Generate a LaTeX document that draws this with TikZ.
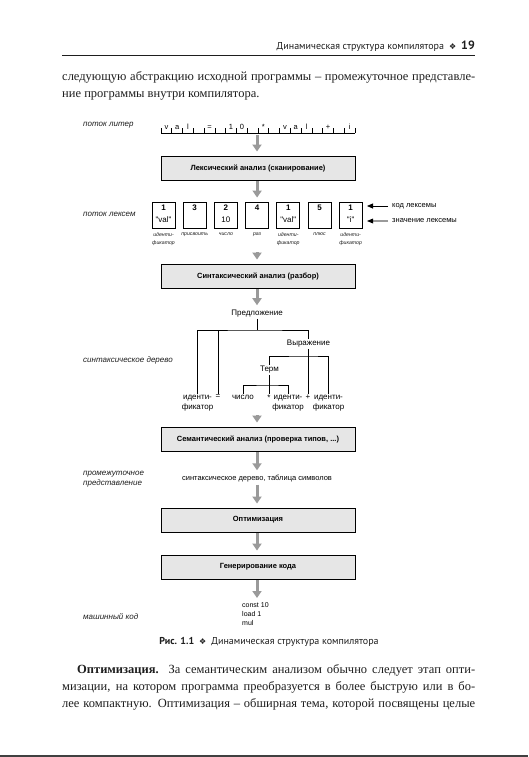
\documentclass[tikz,border=0pt]{standalone}
\usepackage{fontspec}
\setmainfont{Liberation Serif}
\newfontfamily\dsans{Liberation Sans}
\newfontfamily\hsans{PT Sans}
\newfontfamily\symf{DejaVu Sans}
\usetikzlibrary{arrows.meta}

\definecolor{boxgray}{HTML}{E6E6E6}
\definecolor{arrgray}{HTML}{9A9A9A}
\definecolor{txt}{HTML}{1E1E1E}

\tikzset{
  stagebox/.style={draw=black, line width=0.9pt, fill=boxgray, minimum width=194pt,
    minimum height=24pt, inner sep=0pt, font=\dsans\bfseries\fontsize{7.5}{8.5}\selectfont},
  garrow/.style={draw=arrgray, line width=3pt, -{Triangle[width=9pt,length=7pt]},
    arrgray, shorten <=1pt, shorten >=4pt},
  tokbox/.style={draw=black, line width=0.9pt, fill=white, minimum width=23pt,
    minimum height=26pt, inner sep=0pt},
  tokcode/.style={font=\dsans\bfseries\fontsize{8}{9}\selectfont, inner sep=0pt},
  tokval/.style={font=\dsans\fontsize{8}{9}\selectfont, inner sep=0pt},
  sidelabel/.style={anchor=west, font=\dsans\itshape\fontsize{8}{10}\selectfont,
    align=left, inner sep=0pt, text=txt},
  toklabel/.style={anchor=north, font=\dsans\itshape\fontsize{5.2}{7.5}\selectfont,
    align=center, inner sep=0pt, text=txt},
  treetxt/.style={font=\dsans\fontsize{8}{10}\selectfont, inner sep=1pt, align=center},
  leaf/.style={treetxt, anchor=north, inner sep=0.5pt},
  treeline/.style={line width=0.8pt},
  keylabel/.style={anchor=west, font=\dsans\fontsize{7.5}{9}\selectfont, inner sep=0pt},
  bodyline/.style={anchor=base west, inner sep=0pt, text=txt,
    font=\fontsize{12.5}{17}\selectfont},
  rulerchar/.style={font=\dsans\fontsize{7.5}{8}\selectfont, inner sep=0pt, anchor=base},
}

\begin{document}
\begin{tikzpicture}[x=1pt,y=-1pt]
\useasboundingbox (0,0) rectangle (528,757);
\fill[white] (0,0) rectangle (528,757);

% header
\node[anchor=base east, inner sep=0pt, text=txt] (hdr) at (475,50)
  {\hsans\fontsize{10}{12}\selectfont Динамическая структура компилятора\hspace{5pt}{\symf\fontsize{8}{8}\selectfont ❖}\hspace{5pt}{\bfseries\fontsize{12}{12}\selectfont 19}};
\draw[line width=0.9pt, txt] (62,55) -- (475,55);

% top body text
\node[bodyline] (b1) at (62,81) {\hbox to 413pt{следующую абстракцию исходной программы – промежуточное представле-}};
\node[bodyline] (b2) at (62,98) {ние программы внутри компилятора.};

% --- character stream ---
\node[sidelabel] (lit) at (83,125) {поток литер};
\coordinate (rl) at (161,133);
\coordinate (rr) at (355,133);
\draw[line width=0.7pt] (rl) -- (rr);
\foreach \i in {0,...,18} {
  \draw[line width=0.6pt] ({161+\i*10.778},133) -- ({161+\i*10.778},128);
}
\foreach \c/\i in {v/0,a/1,l/2,=/4,1/6,0/7,*/9,v/11,a/12,l/13,+/15,i/17} {
  \node[rulerchar] at ({161+(\i+0.5)*10.778},129) {\c};
}
\coordinate (rmid) at (257,134);

% stage 1
\node[stagebox] (lex) at (258,168) {Лексический анализ (сканирование)};
\draw[garrow] (rmid) -- (lex.north -| rmid);

% --- token stream ---
\node[sidelabel] (tokl) at (83,214) {поток лексем};
\foreach \n/\x in {1/163.5,2/194.7,3/225.9,4/257.1,5/288.3,6/319.5,7/350.7} {
  \node[tokbox] (t\n) at (\x,215) {};
}
\node[tokcode] at (163.5,208) {1};
\node[tokval]  at (163.5,220) {"val"};
\node[tokcode] at (194.7,208) {3};
\node[tokcode] at (225.9,208) {2};
\node[tokval]  at (225.9,220) {10};
\node[tokcode] at (257.1,208) {4};
\node[tokcode] at (288.3,208) {1};
\node[tokval]  at (288.3,220) {"val"};
\node[tokcode] at (319.5,208) {5};
\node[tokcode] at (350.7,208) {1};
\node[tokval]  at (350.7,220) {"i"};

\node[toklabel] (l1) at (163.5,233) {иденти-\\фикатор};
\node[toklabel] (l2) at (194.7,233) {присвоить};
\node[toklabel] (l3) at (225.9,233) {число};
\node[toklabel] (l4) at (257.1,233) {раз};
\node[toklabel] (l5) at (288.3,233) {иденти-\\фикатор};
\node[toklabel] (l6) at (319.5,233) {плюс};
\node[toklabel] (l7) at (350.7,233) {иденти-\\фикатор};

\draw[garrow] (lex.south -| t4) -- (t4.north);

\node[keylabel] (kc) at (392,206) {код лексемы};
\node[keylabel] (kv) at (392,221) {значение лексемы};
\draw[line width=0.8pt, -{Triangle[width=5pt,length=6pt]}] ([xshift=-4pt]kc.west) -- ++(-21,0) coordinate (kce);
\draw[line width=1.6pt, arrgray, shorten >=3pt] ([xshift=-4pt]kv.west) -- ++(-21,0) coordinate (kve);
\fill (kve) -- ++(6,-2.5) -- ++(0,5) -- cycle;

% stage 2
\node[stagebox] (syn) at (258,276) {Синтаксический анализ (разбор)};
\coordinate (l4b) at (257,251);
\draw[garrow] (l4b) -- (syn.north -| l4b);

% --- syntax tree ---
\node[sidelabel] (treel) at (83,360) {синтаксическое дерево};
\node[treetxt] (sent) at (257,314) {Предложение};
\draw[garrow] (syn.south -| sent) -- (sent.north);

\node[treetxt] (expr) at (308.5,344) {Выражение};
\node[treetxt] (term) at (269.5,370) {Терм};

\node[leaf] (id1) at (197.5,394) {иденти-\\фикатор};
\node[leaf] (eq) at (218,394) {=};
\node[leaf] (num) at (243,394) {число};
\node[leaf] (star) at (269,394) {*};
\node[leaf] (id2) at (288,394) {иденти-\\фикатор};
\node[leaf] (plus) at (308,394) {+};
\node[leaf] (id3) at (328.5,394) {иденти-\\фикатор};

\coordinate (sbar) at (257,330);
\coordinate (ebar) at (308,356);
\coordinate (tbar) at (269,385);
\draw[treeline] (sent.south) -- (sbar);
\draw[treeline] (id1.north) |- (sbar) -| (expr.north -| plus);
\draw[treeline] (eq.north) -- (eq.north |- sbar);
\draw[treeline] (expr.south -| plus) -- (plus.north);
\draw[treeline] (term.north -| star) |- (ebar) -| (id3.north);
\draw[treeline] (term.south -| star) -- (star.north);
\draw[treeline] (num.north) |- (tbar) -| (id2.north);

% stage 3
\node[stagebox] (sem) at (258,439) {Семантический анализ (проверка типов, ...)};
\coordinate (tmid) at (257,414);
\draw[garrow] (tmid) -- (sem.north -| tmid);

% intermediate representation
\node[sidelabel] (irl) at (83,479) {промежуточное\\представление};
\node[treetxt, font=\dsans\fontsize{7.5}{9}\selectfont] (ir) at (257,479) {синтаксическое дерево, таблица символов};
\draw[garrow] (sem.south -| ir) -- (ir.north);

% stage 4
\node[stagebox] (opt) at (258,520) {Оптимизация};
\draw[garrow] (ir.south) -- (opt.north -| ir);

% stage 5
\node[stagebox] (gen) at (258,567) {Генерирование кода};
\draw[garrow] (opt.south -| ir) -- (gen.north -| ir);

% machine code
\node[sidelabel] (mcl) at (83,617) {машинный код};
\node[anchor=north west, inner sep=0pt, align=left, font=\dsans\fontsize{7}{9}\selectfont] (code) at (242,602) {const 10\\load 1\\mul};
\coordinate (codetop) at (257,602);
\draw[garrow] (gen.south -| codetop) -- (codetop);

% caption
\node[anchor=base, inner sep=0pt, text=txt] (cap) at (269,644)
  {\hsans\fontsize{10}{12}\selectfont\textbf{Рис. 1.1}\hspace{5pt}{\symf\fontsize{8}{8}\selectfont ❖}\hspace{5pt}Динамическая структура компилятора};

% bottom body text
\node[bodyline] (p1) at (77,673) {\hbox to 398pt{\textbf{Оптимизация.} За семантическим анализом обычно следует этап опти-}};
\node[bodyline] (p2) at (62,690) {\hbox to 413pt{мизации, на котором программа преобразуется в более быструю или в бо-}};
\node[bodyline] (p3) at (62,707) {\hbox to 413pt{лее компактную. Оптимизация – обширная тема, которой посвящены целые}};

% page edge
\draw[line width=1.5pt, black!75] (0,756.2) -- (528,756.2);
\end{tikzpicture}
\end{document}
